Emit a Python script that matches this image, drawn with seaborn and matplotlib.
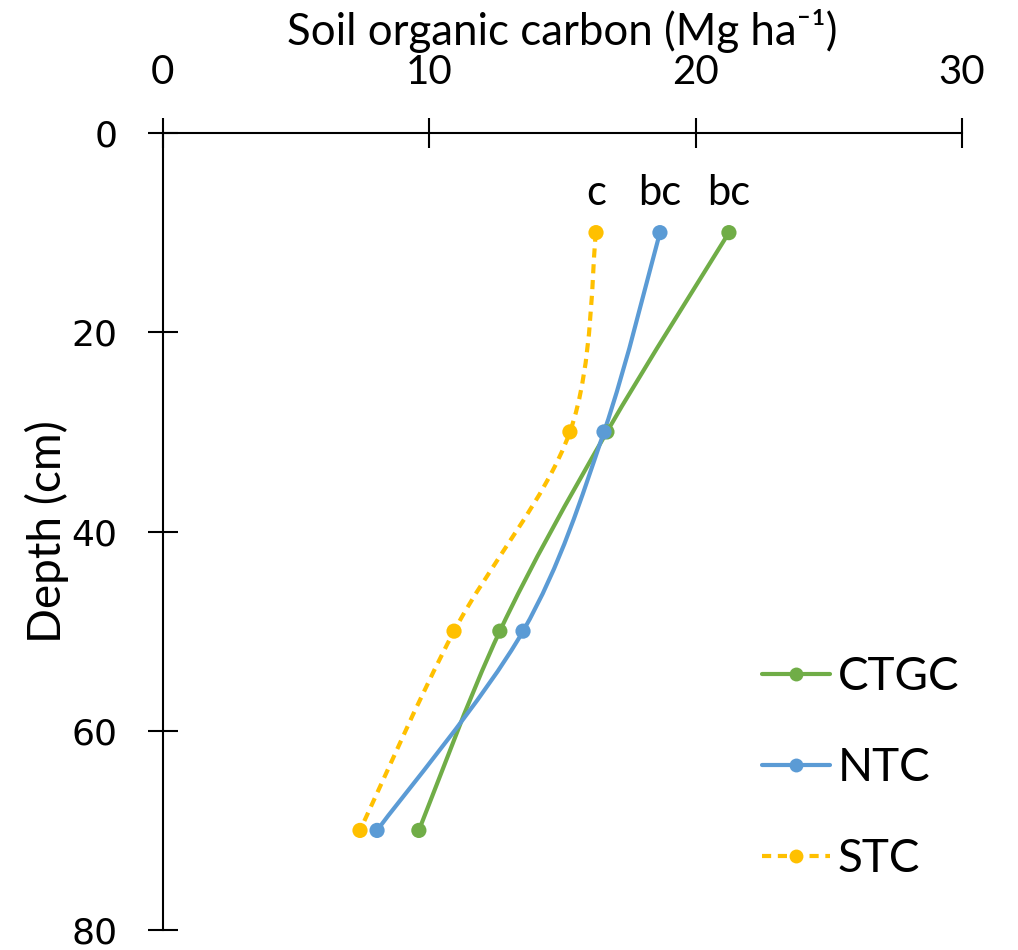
import numpy as np
import pandas as pd
import matplotlib
matplotlib.use("Agg")
import matplotlib.pyplot as plt
import seaborn as sns
from matplotlib.path import Path
from matplotlib.patches import PathPatch
from matplotlib.lines import Line2D

# Soil organic carbon (Mg ha-1) by sampling depth (cm)
depth = [10, 30, 50, 70]
ctgc = [21.25, 16.67, 12.65, 9.61]
ntc = [18.66, 16.56, 13.52, 8.04]
stc = [16.26, 15.28, 10.93, 7.40]
treatments = ["CTGC", "NTC", "STC"]
letters = ["bc", "bc", "c"]  # significance letters at 10 cm

colors = {"CTGC": "#70AD47", "NTC": "#5B9BD5", "STC": "#FFC000"}
styles = {"CTGC": "-", "NTC": "-", "STC": (0, (2.2, 1.6))}

df = pd.DataFrame({
    "Depth": depth * 3,
    "SOC": ctgc + ntc + stc,
    "Treatment": sum([[t] * len(depth) for t in treatments], []),
})

sns.set_theme(style="white")
plt.rcParams["font.family"] = ["Lato", "DejaVu Sans"]
plt.rcParams.update({"text.color": "black", "axes.labelcolor": "black",
                     "xtick.color": "black", "ytick.color": "black"})

fig = plt.figure(figsize=(10.18, 9.5), dpi=100)
ax = fig.add_axes([0.160, 0.021, 0.785, 0.839])


def smooth_path(xs, ys):
    # Cardinal-spline style bezier through the points
    pts = np.column_stack([xs, ys]).astype(float)
    n = len(pts)
    verts = [pts[0]]
    codes = [Path.MOVETO]
    for i in range(n - 1):
        p0 = pts[i - 1] if i > 0 else pts[i]
        p1 = pts[i]
        p2 = pts[i + 1]
        p3 = pts[i + 2] if i + 2 < n else pts[i + 1]
        c1 = p1 + (p2 - p0) / 6.0
        c2 = p2 - (p3 - p1) / 6.0
        verts += [c1, c2, p2]
        codes += [Path.CURVE4] * 3
    return Path(np.array(verts), codes)


for t in treatments:
    sub = df[df["Treatment"] == t]
    patch = PathPatch(smooth_path(sub["SOC"].values, sub["Depth"].values),
                      facecolor="none", edgecolor=colors[t], lw=3.0,
                      linestyle=styles[t], capstyle="butt", zorder=2)
    ax.add_patch(patch)

sns.scatterplot(data=df, x="SOC", y="Depth", hue="Treatment",
                palette=colors, s=120, edgecolor="none", legend=False,
                ax=ax, zorder=3)

# significance letters above the 10 cm points
top = df[df["Depth"] == depth[0]]
for t, lab in zip(treatments, letters):
    xv = top.loc[top["Treatment"] == t, "SOC"].values[0]
    ax.text(xv, depth[0] - 2.8, lab, ha="center", va="baseline",
            fontsize=30, color="black")

ax.set_xlim(0, 30)
ax.set_ylim(80, 0)
ax.xaxis.set_ticks_position("top")
ax.xaxis.set_label_position("top")
ax.set_xticks([0, 10, 20, 30])
ax.set_yticks([0, 20, 40, 60, 80])
for s in ["right", "bottom"]:
    ax.spines[s].set_visible(False)
for s in ["top", "left"]:
    ax.spines[s].set_color("black")
    ax.spines[s].set_linewidth(1.5)
ax.tick_params(axis="both", direction="inout", length=21, width=1.5,
               color="black", left=True, top=True, bottom=False, right=False)
ax.tick_params(axis="x", labelsize=29, pad=20)
ax.tick_params(axis="y", labelsize=26, pad=22)
for lab in ax.get_yticklabels():
    lab.set_fontfamily("DejaVu Sans")

ax.set_xlabel("Soil organic carbon (Mg ha⁻¹)", fontsize=31.5, labelpad=8)
ax.set_ylabel("Depth (cm)", fontsize=33, labelpad=8)
ax.xaxis.set_label_coords(0.5, 1.11)
ax.yaxis.set_label_coords(-0.118, 0.5)

handles = [Line2D([], [], color=colors[t], lw=3.0, linestyle=styles[t],
                  marker="o", markersize=10, markeredgewidth=0)
           for t in treatments]
leg = ax.legend(handles, treatments, loc="upper left",
                bbox_to_anchor=(762 / 1018, 1 - 656 / 950),
                bbox_transform=fig.transFigure, frameon=False, fontsize=33,
                labelspacing=1.07, handlelength=1.48, handletextpad=0.17,
                borderpad=0, borderaxespad=0)

fig.savefig("out.png", dpi=100)
